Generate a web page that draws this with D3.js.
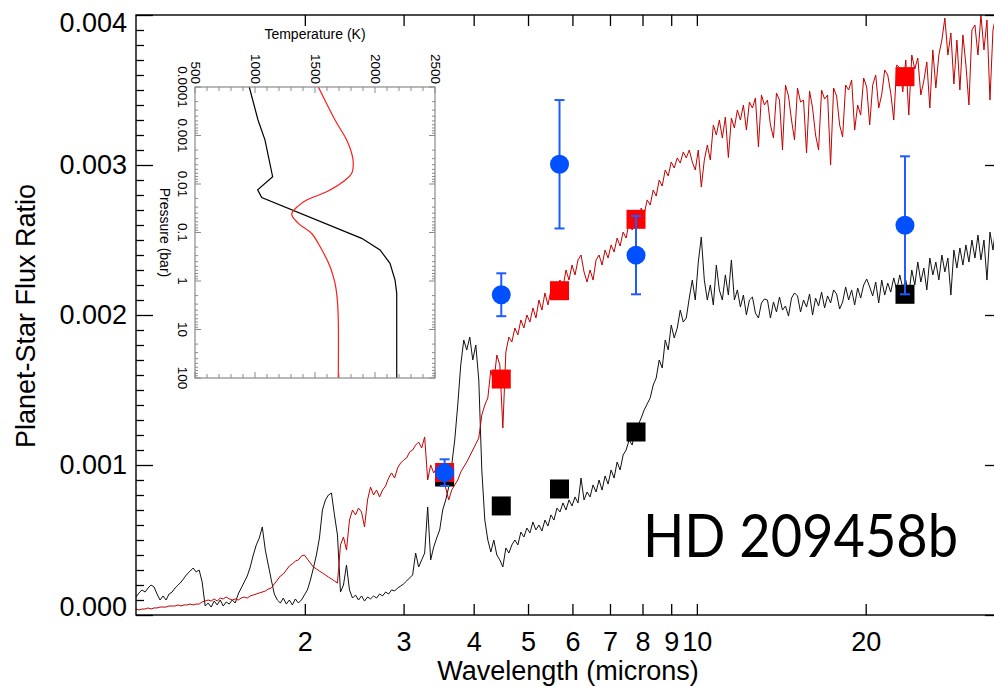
<!DOCTYPE html>
<html>
<head>
<meta charset="utf-8">
<script src="https://cdn.jsdelivr.net/npm/d3@7"></script>
<style>
  html, body { margin: 0; padding: 0; background: #fff; }
  svg { display: block; }
</style>
</head>
<body>
<svg id="chart" width="994" height="687"></svg>
<script>
// ---- Model spectra: constant-resolution wavelength grid (microns) ----
const gridStart = 1.0, gridEnd = 35.0, gridCount = 289;
const wavelengths = d3.range(gridCount).map(i => gridStart * Math.pow(gridEnd / gridStart, i / (gridCount - 1)));

// Planet/star flux ratio in ppm, model without thermal inversion (black)
const noInversionPpm = [
  120,147,167,153,180,200,187,140,100,127,
  100,140,153,180,200,220,247,273,293,313,
  287,300,220,60,80,53,93,67,100,60,
  87,73,100,80,140,180,220,260,320,400,
  467,513,587,433,333,233,140,100,80,113,
  73,100,67,107,80,100,133,167,233,313,
  400,513,700,767,800,813,667,533,153,200,
  333,167,113,133,100,127,93,120,107,127,
  113,140,127,153,140,167,160,180,193,207,
  227,247,267,413,320,367,413,720,367,453,
  513,567,700,767,853,1000,1167,1400,1667,1833,
  1767,1853,1700,1800,1567,967,633,500,420,500,
  400,367,320,447,413,467,500,467,553,520,
  580,547,620,567,600,560,633,593,667,633,
  713,687,747,700,767,727,787,747,913,767,
  820,787,867,820,900,833,927,873,967,913,
  1020,967,1067,1100,1167,1133,1233,1267,1313,1367,
  1407,1447,1533,1580,1700,1647,1833,1767,1933,1847,
  1913,2033,1953,1980,2113,2233,2100,2353,2520,2233,
  2100,2200,2067,2333,2167,2100,2267,2133,2367,2100,
  2167,2053,2133,2000,2100,2120,2013,1980,2080,2107,
  2100,1980,2087,2020,2120,2033,2060,1993,2113,2147,
  2127,2020,2100,2053,2140,2000,2113,2060,2153,2047,
  2127,2080,2167,2140,2040,2087,2187,2100,2167,2067,
  2180,2113,2200,2240,2187,2127,2220,2080,2233,2133,
  2213,2153,2247,2167,2267,2180,2233,2133,2300,2200,
  2353,2220,2313,2167,2380,2267,2353,2233,2400,2287,
  2380,2133,2433,2313,2447,2333,2467,2353,2500,2380,
  2533,2367,2500,2233,2553,2433,2600,2467,2533
];

// Planet/star flux ratio in ppm, model with thermal inversion (red)
const inversionPpm = [
  40,33,40,40,47,40,47,47,53,53,
  53,60,60,60,67,60,67,67,73,67,
  73,73,87,93,100,93,107,93,113,107,
  120,107,100,107,100,113,120,113,127,133,
  140,147,153,160,173,180,207,233,260,273,
  300,327,340,360,367,393,400,373,347,320,
  307,293,280,267,253,240,227,213,467,520,
  433,633,700,667,713,687,587,767,853,800,
  833,787,833,860,913,947,913,980,1013,1033,
  1047,1087,1100,1133,1153,1113,1187,900,1000,947,
  980,913,880,847,767,833,867,900,953,987,
  1020,1060,1100,1140,1180,1333,1400,1447,1633,1553,
  1733,1667,1247,1753,1853,1820,1913,1867,1967,1913,
  2000,1953,2047,1980,2100,2033,2147,2067,2167,2220,
  2167,2233,2187,2300,2233,2333,2267,2367,2400,2287,
  2220,2300,2233,2367,2400,2333,2433,2380,2467,2420,
  2513,2460,2553,2513,2620,2567,2660,2620,2713,2673,
  2767,2733,2833,2793,2900,2860,2967,2927,3020,2980,
  3047,3013,3087,3047,3100,3020,2967,3100,2853,3033,
  3133,3033,3267,3200,3300,3180,3320,3050,3313,3247,
  3367,3300,3400,3233,3420,3380,3447,3120,3467,3400,
  3433,3267,3180,3480,3433,3100,3533,3460,3300,3167,
  3513,3420,3433,3080,3493,3380,3200,3100,3500,3440,
  3467,3000,3513,3460,3267,3187,3533,3500,3567,3233,
  3400,3333,3580,3520,3267,3533,3600,3380,3470,3633,
  3600,3480,3300,3667,3647,3487,3700,3333,3733,3640,
  3713,3467,3560,3687,3380,3767,3513,3733,3833,3980,
  3733,3880,3540,3833,3500,3867,3667,3400,3900,3933,
  3733,4000,3767,3967,3433,3900,4000,3733,3867
];

// ---- Spitzer photometry bands ----
const bandWavelengths = [3.55, 4.48, 5.69, 7.79, 23.5];
const observedPpm = [949, 2135, 3005, 2399, 2598];
const observedErrPpm = [89, 143, 428, 261, 460];
const inversionBandPpm = [950, 1573, 2162, 2638, 3589];
const noInversionBandPpm = [920, 727, 840, 1220, 2138];

// ---- Axis ticks ----
const xTickValues = [2, 3, 4, 5, 6, 7, 8, 9, 10, 20];
const yTickValues = [0, 1000, 2000, 3000, 4000];
const yTickLabels = ["0.000", "0.001", "0.002", "0.003", "0.004"];

// ---- Inset: temperature-pressure profiles ----
const noInvPressureBar = [0.0001, 0.000479, 0.00123, 0.00708, 0.0132, 0.0191, 0.132, 0.229, 0.431, 0.955, 1.78, 100];
const noInvTempK       = [952,    1025,     1083,    1147,    1022,   1056,   1889,  2042,  2125,  2167,  2181, 2181];
const invPressureBar = [0.0001, 0.000479, 0.00124, 0.00234, 0.00372, 0.00603, 0.00891, 0.0145, 0.0214, 0.0282, 0.0417, 0.0646, 0.105, 0.195, 0.501, 1.12, 2.45, 6.31, 100];
const invTempK       = [1528,   1667,     1764,    1806,    1819,    1806,    1736,    1597,   1431,   1361,   1306,   1361,   1472,  1542,  1625,  1667, 1686, 1694, 1694];
const tempTicks = [500, 1000, 1500, 2000, 2500];
const pressureTicks = [0.0001, 0.001, 0.01, 0.1, 1, 10, 100];
const pressureTickLabels = ["0.0001", "0.001", "0.01", "0.1", "1", "10", "100"];

// =====================================================================
const svg = d3.select("#chart");
const FONT = "'Liberation Sans', Arial, Helvetica, sans-serif";
const plot = { left: 136, right: 1002, top: 15, bottom: 615 };

const x = d3.scaleLog().domain([gridStart, gridEnd]).range([plot.left, plot.right]);
const y = d3.scaleLinear().domain([0, 4000]).range([plot.bottom, plot.top]);

svg.append("defs").append("clipPath").attr("id", "plotClip")
  .append("rect")
  .attr("x", plot.left).attr("y", plot.top)
  .attr("width", plot.right - plot.left).attr("height", plot.bottom - plot.top);

const dataLayer = svg.append("g").attr("clip-path", "url(#plotClip)");

const specLine = d3.line()
  .x((d, i) => x(wavelengths[i]))
  .y(d => y(d));

dataLayer.append("path").datum(noInversionPpm)
  .attr("d", specLine).attr("fill", "none")
  .attr("stroke", "#111").attr("stroke-width", 1).attr("stroke-linejoin", "round");

dataLayer.append("path").datum(inversionPpm)
  .attr("d", specLine).attr("fill", "none")
  .attr("stroke", "#c40000").attr("stroke-width", 1).attr("stroke-linejoin", "round");

// Band-averaged model points
const sq = 19;
dataLayer.append("g").selectAll("rect").data(noInversionBandPpm).join("rect")
  .attr("x", (d, i) => x(bandWavelengths[i]) - sq / 2)
  .attr("y", d => y(d) - sq / 2)
  .attr("width", sq).attr("height", sq).attr("fill", "#000");

dataLayer.append("g").selectAll("rect").data(inversionBandPpm).join("rect")
  .attr("x", (d, i) => x(bandWavelengths[i]) - sq / 2)
  .attr("y", d => y(d) - sq / 2)
  .attr("width", sq).attr("height", sq).attr("fill", "#ff0000");

// Observed eclipse depths with error bars
const obs = dataLayer.append("g");
const blue = "#0050ff";
observedPpm.forEach((v, i) => {
  const cx = x(bandWavelengths[i]);
  const yHi = y(v + observedErrPpm[i]), yLo = y(v - observedErrPpm[i]);
  obs.append("line").attr("x1", cx).attr("x2", cx).attr("y1", yHi).attr("y2", yLo)
    .attr("stroke", "#1f5cff").attr("stroke-width", 2);
  [yHi, yLo].forEach(yy => obs.append("line")
    .attr("x1", cx - 5).attr("x2", cx + 5).attr("y1", yy).attr("y2", yy)
    .attr("stroke", "#1f5cff").attr("stroke-width", 2));
  obs.append("circle").attr("cx", cx).attr("cy", y(v)).attr("r", 9.5).attr("fill", blue);
});

// ---- Axes ----
const minorY = d3.range(0, 4001, 100).filter(v => v % 1000 !== 0);
function styleAxis(g) {
  g.select(".domain").remove();
  g.selectAll(".tick line").attr("stroke", "#000").attr("stroke-width", 1.3);
}
svg.append("g").attr("transform", `translate(${plot.left},0)`)
  .call(d3.axisLeft(y).tickValues(yTickValues).tickSize(-17).tickFormat("")).call(styleAxis);
svg.append("g").attr("transform", `translate(${plot.left},0)`)
  .call(d3.axisLeft(y).tickValues(minorY).tickSize(-8).tickFormat("")).call(styleAxis);
svg.append("g").attr("transform", `translate(${plot.right},0)`)
  .call(d3.axisRight(y).tickValues(yTickValues).tickSize(-17).tickFormat("")).call(styleAxis);
svg.append("g").attr("transform", `translate(${plot.right},0)`)
  .call(d3.axisRight(y).tickValues(minorY).tickSize(-8).tickFormat("")).call(styleAxis);

const xb = svg.append("g").attr("transform", `translate(0,${plot.bottom})`)
  .call(d3.axisBottom(x).tickValues(xTickValues).tickSize(-11).tickPadding(17).tickFormat(d => String(d)))
  .call(styleAxis);
xb.selectAll(".tick text").attr("font-family", FONT).attr("font-size", 27).attr("fill", "#000");
svg.append("g").attr("transform", `translate(0,${plot.top})`)
  .call(d3.axisTop(x).tickValues(xTickValues).tickSize(-11).tickFormat("")).call(styleAxis);

// frame
svg.append("rect")
  .attr("x", plot.left).attr("y", plot.top)
  .attr("width", plot.right - plot.left).attr("height", plot.bottom - plot.top)
  .attr("fill", "none").attr("stroke", "#000").attr("stroke-width", 1.4);

// y tick labels (end labels kept inside the frame height)
svg.append("g").selectAll("text").data(yTickValues).join("text")
  .attr("x", 127)
  .attr("y", d => Math.min(Math.max(y(d), plot.top + 8), plot.bottom - 8))
  .attr("text-anchor", "end").attr("dominant-baseline", "central")
  .attr("font-family", FONT).attr("font-size", 27).attr("fill", "#000")
  .text((d, i) => yTickLabels[i]);

// axis titles
svg.append("text").attr("x", 568).attr("y", 680)
  .attr("text-anchor", "middle").attr("font-family", FONT).attr("font-size", 27)
  .text("Wavelength (microns)");
svg.append("text").attr("transform", "translate(35,316) rotate(-90)")
  .attr("text-anchor", "middle").attr("font-family", FONT).attr("font-size", 27)
  .text("Planet-Star Flux Ratio");

// planet name
svg.append("text").attr("x", 643).attr("y", 557)
  .attr("font-family", "Lato, 'Open Sans', sans-serif").attr("font-size", 60)
  .attr("textLength", 315).attr("lengthAdjust", "spacingAndGlyphs")
  .attr("fill", "#000").text("HD 209458b");

// ---- Inset T-P profile ----
const inset = { left: 195, right: 435, top: 87, bottom: 378 };
const tx = d3.scaleLinear().domain([500, 2500]).range([inset.left, inset.right]);
const py = d3.scaleLog().domain([1e-4, 100]).range([inset.top, inset.bottom]);
const ig = svg.append("g");
const frameGray = "#8a8a8a";

ig.append("rect").attr("x", inset.left).attr("y", inset.top)
  .attr("width", inset.right - inset.left).attr("height", inset.bottom - inset.top)
  .attr("fill", "#fff");

// temperature ticks on top and bottom edges
d3.range(500, 2501, 100).forEach(t => {
  const len = t % 500 === 0 ? 6 : 4;
  ig.append("line").attr("x1", tx(t)).attr("x2", tx(t)).attr("y1", inset.top).attr("y2", inset.top + len)
    .attr("stroke", frameGray).attr("stroke-width", 1);
  ig.append("line").attr("x1", tx(t)).attr("x2", tx(t)).attr("y1", inset.bottom).attr("y2", inset.bottom - len)
    .attr("stroke", frameGray).attr("stroke-width", 1);
});
// pressure ticks on left and right edges
const pMinor = [];
for (let e = -4; e < 2; e++) for (let k = 2; k <= 9; k++) pMinor.push(k * Math.pow(10, e));
pressureTicks.concat(pMinor).forEach((p, i) => {
  const len = i < pressureTicks.length ? 6 : 3;
  ig.append("line").attr("x1", inset.left).attr("x2", inset.left + len).attr("y1", py(p)).attr("y2", py(p))
    .attr("stroke", frameGray).attr("stroke-width", 1);
  ig.append("line").attr("x1", inset.right).attr("x2", inset.right - len).attr("y1", py(p)).attr("y2", py(p))
    .attr("stroke", frameGray).attr("stroke-width", 1);
});

const profLine = d3.line().x(d => tx(d[0])).y(d => py(d[1]));
ig.append("path").datum(noInvTempK.map((t, i) => [t, noInvPressureBar[i]]))
  .attr("d", profLine).attr("fill", "none").attr("stroke", "#000").attr("stroke-width", 1.2);
ig.append("path").datum(invTempK.map((t, i) => [t, invPressureBar[i]]))
  .attr("d", profLine.curve(d3.curveCatmullRom.alpha(0.5))).attr("fill", "none")
  .attr("stroke", "#ff1a1a").attr("stroke-width", 1.2);

ig.append("rect").attr("x", inset.left).attr("y", inset.top)
  .attr("width", inset.right - inset.left).attr("height", inset.bottom - inset.top)
  .attr("fill", "none").attr("stroke", frameGray).attr("stroke-width", 1.2);

// inset labels (rotated, reading downward)
ig.append("g").selectAll("text").data(tempTicks).join("text")
  .attr("transform", d => `translate(${tx(d)},${inset.top - 3}) rotate(90)`)
  .attr("text-anchor", "end").attr("dominant-baseline", "central")
  .attr("font-family", FONT).attr("font-size", 13.5).text(d => d);
ig.append("text").attr("x", (inset.left + inset.right) / 2).attr("y", 39)
  .attr("text-anchor", "middle").attr("font-family", FONT).attr("font-size", 14)
  .text("Temperature (K)");
ig.append("g").selectAll("text").data(pressureTicks).join("text")
  .attr("transform", d => `translate(182,${py(d)}) rotate(90)`)
  .attr("text-anchor", "middle").attr("dominant-baseline", "central")
  .attr("font-family", FONT).attr("font-size", 13.5).text((d, i) => pressureTickLabels[i]);
ig.append("text")
  .attr("transform", `translate(165,${(inset.top + inset.bottom) / 2}) rotate(90)`)
  .attr("text-anchor", "middle").attr("dominant-baseline", "central")
  .attr("font-family", FONT).attr("font-size", 14).text("Pressure (bar)");
</script>
</body>
</html>
